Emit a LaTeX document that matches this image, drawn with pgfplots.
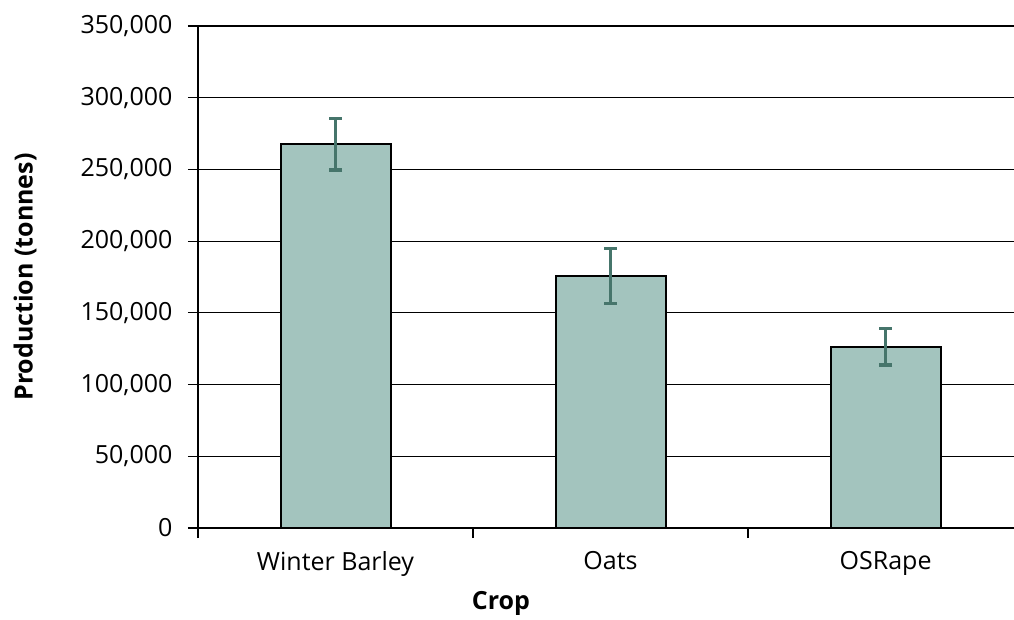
\documentclass[border=0pt]{standalone}
\usepackage{fontspec}
\setmainfont{Open Sans}
\usepackage{pgfplots}
\pgfplotsset{compat=1.18}
\usetikzlibrary{calc}

\definecolor{barfill}{RGB}{163,196,190}
\definecolor{errcol}{RGB}{70,117,107}

\begin{document}
\begin{tikzpicture}
\begin{axis}[
  name=ax,
  scale only axis,
  width=816pt, height=502pt,
  xmin=-0.5, xmax=2.467,
  ymin=0, ymax=350000,
  axis x line*=bottom, axis y line*=left,
  axis line style={black, line width=1.2pt},
  ytick={0,50000,...,350000},
  ymajorgrids, grid style={black, line width=1.2pt},
  tick align=outside, major tick length=10pt,
  tick style={black, line width=1.2pt},
  xtick={-0.5,0.5,1.5,2.5},
  xticklabels={},
  extra x ticks={0,1,2},
  extra x tick labels={Winter Barley,Oats,OSRape},
  extra x tick style={major tick length=0pt, grid=none},
  xticklabel style={font=\fontsize{25}{29}\selectfont, yshift=-20pt},
  yticklabel style={font=\fontsize{25}{29}\selectfont, xshift=-12pt},
  /pgf/number format/.cd, fixed, 1000 sep={,}, assume math mode=true,
  /pgfplots/.cd,
  scaled y ticks=false,
  xlabel={\textbf{Crop}},
  ylabel={\textbf{Production (tonnes)}},
  every axis x label/.style={at={(rel axis cs:0,0)}, xshift=303pt, yshift=-75pt,
    anchor=center, font=\fontsize{25}{29}\selectfont},
  every axis y label/.style={at={(rel axis cs:0,0.5)}, xshift=-173pt,
    rotate=90, anchor=center, font=\fontsize{25}{29}\selectfont},
  clip=false,
]
\addplot[ybar, bar width=110pt, fill=barfill, draw=black, line width=2pt,
  error bars/.cd, y dir=both, y explicit,
  error bar style={errcol, line width=3.6pt},
  error mark options={errcol, line width=3.6pt, mark size=6.5pt, rotate=90}]
  coordinates {
    (0,267600) +- (0,17900)
    (1,175600) +- (0,19200)
    (2,126300) +- (0,12700)
  };
\end{axis}
\pgfresetboundingbox
\path[use as bounding box] ($(ax.south west)+(-198pt,-91pt)$) rectangle ($(ax.north east)+(0pt,26pt)$);
\end{tikzpicture}
\end{document}
